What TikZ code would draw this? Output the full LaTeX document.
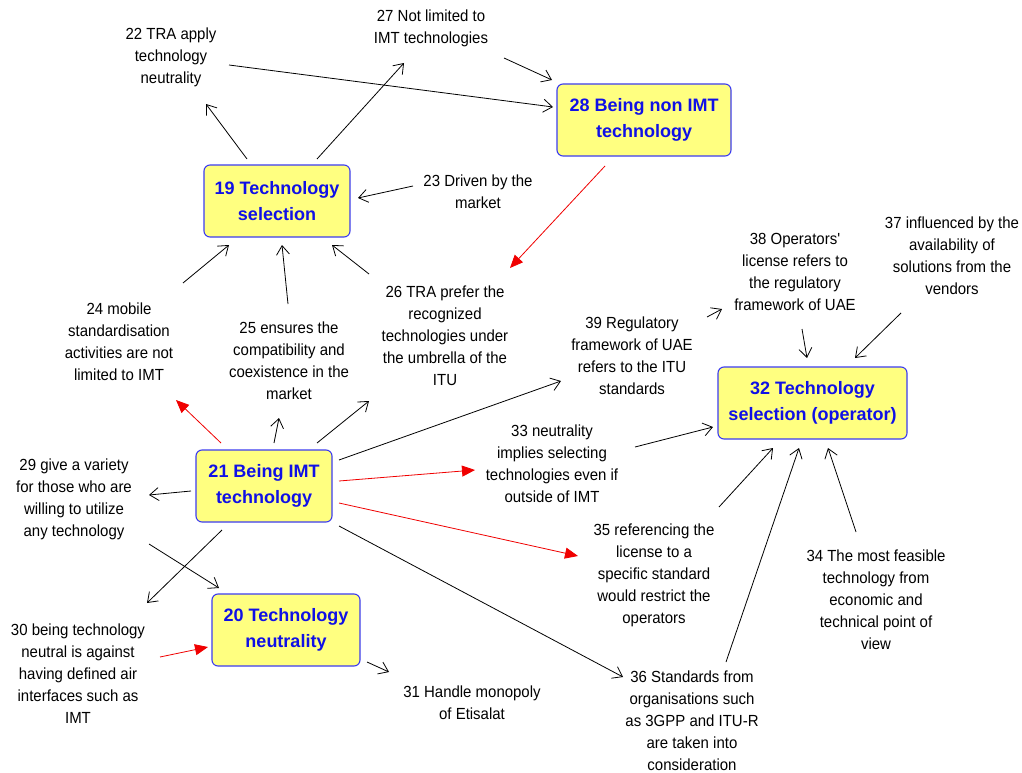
\documentclass[tikz,border=0pt]{standalone}
\usepackage{fontspec}
\setmainfont{Liberation Sans}
\newfontfamily\notefont[FakeStretch=0.93]{Liberation Sans}
\usetikzlibrary{arrows.meta}
\definecolor{boxfill}{RGB}{255,255,128}
\definecolor{boxline}{RGB}{60,60,240}
\definecolor{boxtext}{RGB}{16,16,230}
\definecolor{redline}{RGB}{240,0,0}
\tikzset{
  issue/.style={rectangle, rounded corners=6pt, draw=boxline, line width=1.1pt,
    fill=boxfill, text=boxtext, align=center, inner sep=0pt, minimum height=72pt,
    font=\bfseries\fontsize{18}{26}\selectfont},
  note/.style={align=center, inner sep=0pt, text=black,
    font=\notefont\fontsize{16.1}{22}\selectfont},
  arr/.style={draw=black, line width=0.8pt, -{Straight Barb[length=9pt,width=13pt]}},
  redarr/.style={draw=redline, line width=0.8pt, -{Triangle[length=13pt,width=11pt]}}
}
\begin{document}
\begin{tikzpicture}[x=1pt,y=-1pt]
\path[use as bounding box, fill=white] (0,0) rectangle (1022,773);

% central issue boxes
\node[issue, minimum width=146pt] (n19) at (277,201) {19 Technology\\selection};
\node[issue, minimum width=174pt] (n28) at (644,120) {28 Being non IMT\\technology};
\node[issue, minimum width=136pt] (n21) at (264,486) {21 Being IMT\\technology};
\node[issue, minimum width=148pt] (n20) at (286,630) {20 Technology\\neutrality};
\node[issue, minimum width=189pt] (n32) at (812.5,403) {32 Technology\\selection (operator)};

% statements
\node[note] (n22) at (171,57) {22 TRA apply\\technology\\neutrality};
\node[note] (n27) at (431,28) {27 Not limited to\\IMT technologies};
\node[note] (n23) at (478,192) {23 Driven by the\\market};
\node[note] (n26) at (445,336) {26 TRA prefer the\\recognized\\technologies under\\the umbrella of the\\ITU};
\node[note] (n24) at (119,342) {24 mobile\\standardisation\\activities are not\\limited to IMT};
\node[note] (n25) at (289,361) {25 ensures the\\compatibility and\\coexistence in the\\market};
\node[note] (n39) at (632,356) {39 Regulatory\\framework of UAE\\refers to the ITU\\standards};
\node[note] (n38) at (795,272) {38 Operators'\\license refers to\\the regulatory\\framework of UAE};
\node[note] (n37) at (952,256) {37 influenced by the\\availability of\\solutions from the\\vendors};
\node[note] (n33) at (552,464) {33 neutrality\\implies selecting\\technologies even if\\outside of IMT};
\node[note] (n29) at (74,499) {29 give a variety\\for those who are\\willing to utilize\\any technology};
\node[note] (n35) at (654,575.5) {35 referencing the\\license to a\\specific standard\\would restrict the\\operators};
\node[note] (n34) at (876,599.5) {34 The most feasible\\technology from\\economic and\\technical point of\\view};
\node[note] (n30) at (78,674) {30 being technology\\neutral is against\\having defined air\\interfaces such as\\IMT};
\node[note] (n31) at (472,703) {31 Handle monopoly\\of Etisalat};
\node[note] (n36) at (692,721) {36 Standards from\\organisations such\\as 3GPP and ITU-R\\are taken into\\consideration};

% links around 19 and 28
\draw[arr] ([shift={(58,8)}]n22.center) -- ([shift={(-91,-13)}]n28.center);
\draw[arr] ([shift={(73,30)}]n27.center) -- ([shift={(-92,-40)}]n28.center);
\draw[arr] ([shift={(-30,-42)}]n19.center) -- ([shift={(35,47)}]n22.center);
\draw[arr] ([shift={(40,-42)}]n19.center) -- ([shift={(-27,35)}]n27.center);
\draw[arr] ([shift={(-65,-6)}]n23.center) -- ([shift={(81,-3)}]n19.center);
\draw[redarr] ([shift={(-39,46)}]n28.center) -- ([shift={(65,-68)}]n26.center);
\draw[arr] ([shift={(64,-59)}]n24.center) -- ([shift={(-48,44)}]n19.center);
\draw[arr] ([shift={(-1,-57)}]n25.center) -- ([shift={(5,44)}]n19.center);
\draw[arr] ([shift={(-76,-62)}]n26.center) -- ([shift={(55,44)}]n19.center);

% links leaving 21
\draw[redarr] ([shift={(-43,-43)}]n21.center) -- ([shift={(57,58)}]n24.center);
\draw[arr] ([shift={(10,-43)}]n21.center) -- ([shift={(-10,57)}]n25.center);
\draw[arr] ([shift={(53,-43)}]n21.center) -- ([shift={(-76,65)}]n26.center);
\draw[arr] ([shift={(75,-26)}]n21.center) -- ([shift={(-71,25)}]n39.center);
\draw[redarr] ([shift={(75,-5)}]n21.center) -- ([shift={(-77,6)}]n33.center);
\draw[arr] ([shift={(-73,5)}]n21.center) -- ([shift={(75,-4)}]n29.center);
\draw[redarr] ([shift={(75,17)}]n21.center) -- ([shift={(-76,-19.5)}]n35.center);
\draw[arr] ([shift={(-42,44)}]n21.center) -- ([shift={(69,-71)}]n30.center);
\draw[arr] ([shift={(75,40)}]n21.center) -- ([shift={(-69,-44)}]n36.center);

% links around 20
\draw[arr] ([shift={(75,45)}]n29.center) -- ([shift={(-67,-42)}]n20.center);
\draw[redarr] ([shift={(82,-17)}]n30.center) -- ([shift={(-78,17)}]n20.center);
\draw[arr] ([shift={(81,32)}]n20.center) -- ([shift={(-83,-31)}]n31.center);

% links into 32
\draw[arr] ([shift={(75,-39)}]n39.center) -- ([shift={(-73,37)}]n38.center);
\draw[arr] ([shift={(7,57)}]n38.center) -- ([shift={(-5.5,-45)}]n32.center);
\draw[arr] ([shift={(-51,57)}]n37.center) -- ([shift={(42.5,-45)}]n32.center);
\draw[arr] ([shift={(83,-17)}]n33.center) -- ([shift={(-99.5,24)}]n32.center);
\draw[arr] ([shift={(65,-68.5)}]n35.center) -- ([shift={(-39.5,45)}]n32.center);
\draw[arr] ([shift={(34,-59)}]n36.center) -- ([shift={(-13.5,45)}]n32.center);
\draw[arr] ([shift={(-20,-67.5)}]n34.center) -- ([shift={(15.5,45)}]n32.center);
\end{tikzpicture}
\end{document}
